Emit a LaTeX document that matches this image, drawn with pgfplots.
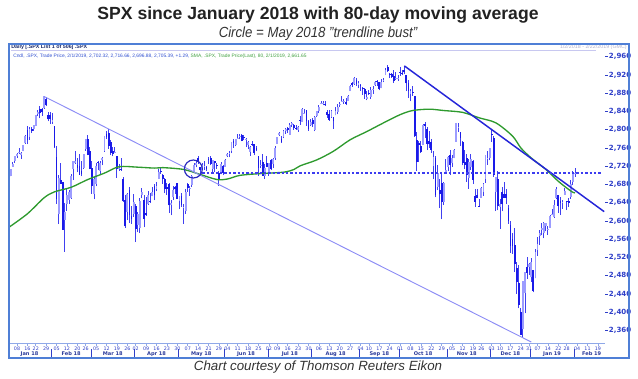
\documentclass[border=0pt]{standalone}
\usepackage{pgfplots}
\pgfplotsset{compat=1.18}
\usepackage{pgfplotstable}
\usepackage{fontspec}
\setmainfont{Liberation Sans}
\newfontfamily\vfont{DejaVu Sans}
\definecolor{titlec}{HTML}{222222}
\definecolor{subc}{HTML}{333333}
\definecolor{framec}{HTML}{4F7FD6}
\definecolor{tickc}{HTML}{2F3FC8}
\definecolor{monthc}{HTML}{2A3A9A}
\definecolor{wickc}{HTML}{4040F0}
\definecolor{downc}{HTML}{1A1AE8}
\definecolor{upc}{HTML}{9C9CFF}
\definecolor{smac}{HTML}{2E9A2E}
\definecolor{lightl}{HTML}{8C8CF5}
\definecolor{darkl}{HTML}{2525D8}
\definecolor{dotc}{HTML}{3C3CF0}
\definecolor{circc}{HTML}{2A2ABF}
\definecolor{lavc}{HTML}{C8C8F0}
\definecolor{hdrc}{HTML}{1A2A6A}
\definecolor{hblue}{HTML}{3050D0}
\definecolor{hgreen}{HTML}{40A040}
\definecolor{axc}{HTML}{8FA8E8}

\pgfplotstableread{
i o h l c
0 2683.73 2695.89 2682.36 2695.81
1 2697.85 2714.37 2697.77 2713.06
2 2719.31 2729.29 2719.07 2723.99
3 2731.33 2743.45 2727.92 2743.15
4 2742.67 2748.51 2737.60 2747.71
5 2751.15 2759.14 2747.86 2751.29
6 2745.55 2750.80 2736.06 2748.23
7 2752.97 2767.56 2752.78 2767.56
8 2770.18 2787.85 2769.64 2786.24
9 2798.96 2807.54 2768.64 2776.42
10 2784.99 2807.04 2778.38 2802.56
11 2802.40 2805.83 2792.56 2798.03
12 2802.60 2810.33 2798.08 2810.30
13 2809.16 2833.03 2808.12 2832.97
14 2835.05 2842.24 2830.59 2839.13
15 2845.42 2852.97 2824.81 2837.54
16 2846.24 2848.56 2830.94 2839.25
17 2847.48 2872.87 2846.18 2872.87
18 2867.23 2870.62 2851.48 2853.53
19 2832.74 2837.75 2818.27 2822.43
20 2832.41 2839.26 2813.04 2823.81
21 2816.45 2835.96 2812.70 2821.98
22 2808.92 2808.92 2759.97 2762.13
23 2741.06 2763.39 2638.17 2648.94
24 2614.78 2701.04 2593.07 2695.14
25 2690.95 2727.67 2681.33 2681.66
26 2685.01 2685.27 2580.56 2581.00
27 2601.78 2638.67 2532.69 2619.55
28 2636.75 2672.61 2622.45 2656.00
29 2646.27 2668.84 2637.08 2662.94
30 2651.21 2702.10 2648.87 2698.63
31 2713.46 2731.51 2689.82 2731.20
32 2727.14 2754.42 2725.11 2732.22
33 2722.99 2737.60 2706.76 2716.26
34 2720.53 2747.75 2701.29 2701.33
35 2710.42 2731.26 2697.77 2703.96
36 2715.80 2747.76 2713.74 2747.30
37 2757.37 2780.64 2753.78 2779.60
38 2780.45 2789.15 2744.22 2744.28
39 2753.78 2761.52 2713.54 2713.83
40 2715.22 2730.89 2659.65 2677.67
41 2658.89 2696.25 2647.32 2691.25
42 2681.06 2728.09 2675.75 2720.94
43 2730.18 2732.08 2711.26 2728.12
44 2710.18 2730.60 2701.74 2726.80
45 2732.75 2740.45 2721.92 2738.97
46 2752.91 2786.57 2751.54 2786.57
47 2790.54 2796.98 2779.26 2783.02
48 2792.31 2801.90 2758.68 2765.31
49 2774.06 2777.11 2744.38 2749.48
50 2754.27 2763.03 2741.47 2747.33
51 2750.57 2761.85 2749.97 2752.01
52 2741.38 2741.38 2694.59 2712.92
53 2715.05 2724.22 2710.05 2716.94
54 2714.99 2739.14 2709.79 2711.93
55 2691.36 2695.68 2641.59 2643.69
56 2646.71 2657.67 2585.89 2588.26
57 2619.35 2661.36 2601.81 2658.55
58 2667.57 2674.78 2596.12 2612.62
59 2611.30 2632.65 2593.06 2605.00
60 2614.41 2659.07 2609.72 2640.87
61 2633.45 2638.30 2553.80 2581.88
62 2592.17 2619.14 2575.49 2614.45
63 2584.04 2649.86 2573.61 2644.69
64 2657.36 2672.08 2649.58 2662.84
65 2645.82 2656.88 2586.27 2604.47
66 2617.18 2653.55 2610.79 2613.16
67 2638.41 2665.45 2635.78 2656.87
68 2643.69 2661.43 2639.25 2642.19
69 2653.83 2674.72 2653.83 2663.99
70 2676.90 2680.26 2645.05 2656.30
71 2670.10 2686.49 2665.16 2677.84
72 2692.74 2713.34 2692.05 2706.39
73 2710.11 2717.49 2703.63 2708.64
74 2701.16 2702.84 2681.90 2693.13
75 2692.56 2693.94 2660.61 2670.14
76 2675.40 2682.86 2657.99 2670.29
77 2680.80 2683.55 2617.32 2634.56
78 2634.92 2645.30 2612.67 2639.40
79 2651.65 2676.48 2647.16 2666.94
80 2675.47 2677.35 2659.01 2669.91
81 2682.51 2682.87 2648.04 2648.05
82 2642.96 2655.27 2625.41 2654.80
83 2654.24 2660.87 2631.70 2635.67
84 2628.08 2637.14 2594.62 2629.73
85 2621.45 2670.93 2615.32 2663.42
86 2680.34 2683.35 2664.70 2672.63
87 2670.26 2676.34 2655.20 2671.92
88 2678.12 2701.27 2674.14 2697.79
89 2705.02 2726.11 2704.54 2723.07
90 2722.70 2732.86 2717.45 2727.72
91 2738.47 2742.10 2725.47 2730.13
92 2718.59 2718.59 2701.91 2711.45
93 2712.62 2727.76 2712.17 2722.46
94 2719.71 2731.96 2711.36 2720.13
95 2717.35 2719.50 2709.18 2712.97
96 2735.39 2739.19 2725.70 2733.01
97 2738.34 2742.24 2721.88 2724.44
98 2713.98 2733.33 2707.38 2733.29
99 2730.94 2731.97 2707.38 2727.76
100 2723.60 2727.36 2714.99 2721.33
101 2705.11 2710.67 2676.81 2689.86
102 2702.43 2729.34 2702.43 2724.01
103 2720.98 2722.50 2700.68 2705.27
104 2718.70 2736.93 2718.70 2734.62
105 2741.67 2749.16 2740.54 2746.87
106 2748.46 2752.61 2739.51 2748.80
107 2753.25 2772.39 2748.46 2772.35
108 2774.84 2779.90 2760.16 2770.37
109 2765.84 2779.39 2763.59 2779.03
110 2780.18 2790.21 2779.90 2782.00
111 2785.60 2789.80 2778.78 2786.85
112 2787.94 2791.47 2774.65 2775.63
113 2783.21 2789.06 2776.52 2782.49
114 2777.78 2782.81 2761.73 2779.66
115 2765.79 2774.99 2757.12 2773.75
116 2752.01 2765.05 2743.19 2762.59
117 2769.73 2774.86 2763.91 2767.32
118 2769.28 2769.28 2744.39 2749.76
119 2760.79 2764.17 2752.68 2754.88
120 2742.94 2742.94 2698.67 2717.07
121 2722.12 2732.91 2715.60 2723.06
122 2728.45 2746.09 2699.38 2699.63
123 2698.69 2724.34 2691.99 2716.31
124 2727.13 2743.26 2718.03 2718.37
125 2704.95 2727.26 2698.95 2726.71
126 2733.27 2736.58 2711.16 2713.22
127 2724.19 2737.83 2716.02 2736.61
128 2737.68 2764.41 2733.52 2759.82
129 2769.76 2784.65 2769.76 2784.17
130 2788.56 2795.58 2786.24 2793.84
131 2779.82 2785.91 2770.77 2774.02
132 2783.14 2799.22 2781.53 2798.29
133 2796.93 2804.53 2791.69 2801.31
134 2804.55 2807.04 2793.82 2798.43
135 2789.34 2814.19 2789.24 2809.55
136 2811.35 2816.76 2805.89 2815.62
137 2809.37 2812.05 2799.77 2804.49
138 2804.55 2809.70 2800.01 2801.83
139 2799.17 2808.61 2795.14 2806.98
140 2820.68 2829.99 2811.12 2820.40
141 2817.73 2848.03 2817.73 2846.07
142 2835.49 2845.57 2835.26 2837.44
143 2842.35 2843.17 2808.34 2818.82
144 2819.00 2821.74 2798.11 2802.60
145 2809.73 2824.46 2808.06 2816.29
146 2821.17 2825.83 2805.85 2813.36
147 2800.48 2829.91 2796.34 2827.22
148 2829.62 2840.38 2827.37 2840.35
149 2840.29 2853.29 2835.98 2850.40
150 2855.92 2863.43 2855.92 2858.45
151 2856.79 2862.44 2853.09 2857.70
152 2857.19 2862.48 2851.98 2853.58
153 2838.90 2842.20 2825.81 2833.28
154 2835.46 2843.40 2819.88 2821.93
155 2827.88 2843.11 2826.58 2839.96
156 2827.95 2827.95 2802.49 2818.37
157 2831.44 2850.49 2831.44 2840.69
158 2838.32 2855.63 2833.73 2850.13
159 2853.93 2859.76 2850.62 2857.05
160 2861.51 2873.23 2861.32 2862.96
161 2860.99 2867.54 2856.05 2861.82
162 2860.29 2868.78 2854.03 2856.98
163 2862.35 2876.16 2862.35 2874.69
164 2884.69 2898.25 2884.69 2896.74
165 2901.45 2903.77 2893.50 2897.52
166 2900.62 2916.50 2898.40 2914.04
167 2908.94 2912.46 2895.22 2901.13
168 2898.37 2906.32 2890.73 2901.52
169 2896.96 2900.18 2885.13 2896.72
170 2891.59 2894.21 2876.92 2888.60
171 2888.64 2892.05 2867.29 2878.05
172 2868.26 2883.81 2864.12 2871.68
173 2881.39 2886.93 2875.94 2877.13
174 2871.57 2892.52 2866.78 2887.89
175 2888.29 2894.65 2879.20 2888.92
176 2896.85 2906.76 2896.39 2904.18
177 2906.38 2908.30 2895.77 2904.98
178 2903.83 2904.65 2886.16 2888.80
179 2890.74 2911.17 2890.43 2904.31
180 2906.60 2912.36 2903.82 2907.95
181 2919.73 2934.80 2919.73 2930.75
182 2936.76 2940.91 2927.11 2929.67
183 2921.83 2923.79 2912.63 2919.37
184 2921.75 2923.95 2913.70 2915.56
185 2916.98 2931.15 2903.28 2905.97
186 2911.65 2927.22 2909.27 2914.00
187 2910.03 2920.53 2907.50 2913.98
188 2926.29 2937.06 2917.91 2924.59
189 2923.80 2931.42 2919.37 2923.43
190 2931.69 2939.86 2921.36 2925.51
191 2919.35 2919.78 2883.92 2901.61
192 2902.54 2909.64 2869.29 2885.57
193 2877.53 2889.45 2862.08 2884.43
194 2882.51 2894.83 2874.27 2880.34
195 2873.90 2874.02 2784.86 2785.68
196 2776.87 2795.14 2710.51 2728.37
197 2770.54 2775.77 2729.44 2767.13
198 2763.83 2775.99 2749.03 2750.79
199 2767.05 2813.46 2766.91 2809.92
200 2811.67 2816.94 2781.81 2809.21
201 2802.00 2806.04 2755.18 2768.78
202 2775.66 2797.77 2760.27 2767.78
203 2773.94 2778.94 2749.22 2755.88
204 2721.03 2753.59 2691.43 2740.69
205 2737.87 2742.59 2651.89 2656.10
206 2674.88 2722.70 2667.84 2705.57
207 2667.86 2692.38 2628.16 2658.69
208 2682.65 2706.85 2603.54 2641.25
209 2640.68 2685.43 2635.34 2682.63
210 2705.60 2736.69 2705.60 2711.74
211 2717.58 2741.67 2708.85 2740.37
212 2745.45 2756.55 2700.44 2723.06
213 2726.37 2744.27 2717.94 2738.31
214 2738.40 2756.82 2737.08 2755.45
215 2774.13 2815.15 2774.13 2813.89
216 2806.38 2814.75 2794.99 2806.83
217 2794.10 2794.10 2764.24 2781.01
218 2773.93 2775.99 2722.00 2726.22
219 2730.05 2754.60 2714.98 2722.18
220 2737.90 2746.80 2685.75 2701.58
221 2693.52 2735.38 2670.75 2730.20
222 2718.54 2746.75 2712.16 2736.27
223 2730.74 2733.16 2681.09 2690.73
224 2654.60 2669.44 2631.52 2641.89
225 2657.74 2670.73 2649.82 2649.93
226 2633.36 2647.55 2631.09 2632.56
227 2649.97 2674.35 2649.97 2673.45
228 2663.75 2682.53 2655.89 2682.17
229 2691.45 2744.00 2684.38 2743.79
230 2736.97 2753.75 2722.94 2737.80
231 2737.76 2760.88 2732.76 2760.17
232 2790.50 2800.18 2773.38 2790.37
233 2782.43 2785.93 2697.18 2700.06
234 2663.51 2696.15 2621.53 2695.95
235 2691.26 2708.54 2623.14 2633.08
236 2630.86 2647.51 2583.23 2637.72
237 2664.44 2674.35 2621.30 2636.78
238 2658.23 2685.44 2650.26 2651.07
239 2658.70 2670.19 2637.27 2650.54
240 2629.68 2635.07 2593.84 2599.95
241 2590.75 2601.13 2530.54 2545.94
242 2559.90 2573.99 2528.71 2546.16
243 2547.05 2585.29 2488.96 2506.96
244 2496.77 2509.63 2441.18 2467.42
245 2465.38 2504.41 2408.55 2416.62
246 2400.56 2410.34 2351.10 2351.10
247 2363.12 2467.76 2346.58 2467.70
248 2442.50 2489.10 2397.94 2488.83
249 2498.77 2520.27 2472.89 2485.74
250 2498.94 2509.24 2482.82 2506.85
251 2476.96 2519.49 2467.47 2510.03
252 2491.92 2493.14 2443.96 2447.89
253 2474.33 2538.07 2474.33 2531.94
254 2535.61 2566.16 2524.56 2549.69
255 2568.11 2579.82 2547.56 2574.41
256 2580.00 2595.32 2568.89 2584.96
257 2573.51 2597.82 2562.02 2596.64
258 2588.11 2596.27 2577.40 2596.26
259 2580.31 2589.32 2570.41 2582.61
260 2585.10 2613.08 2585.10 2610.30
261 2614.75 2625.76 2612.68 2616.10
262 2609.28 2645.06 2606.36 2635.96
263 2651.27 2675.47 2647.58 2670.71
264 2657.88 2657.88 2617.27 2632.90
265 2643.48 2653.19 2612.86 2638.70
266 2638.84 2647.20 2627.01 2642.33
267 2657.44 2672.38 2657.33 2664.76
268 2644.97 2644.97 2624.06 2643.85
269 2644.89 2650.93 2631.05 2640.00
270 2653.62 2690.44 2648.34 2681.05
271 2685.49 2708.95 2678.65 2704.10
272 2702.32 2716.66 2696.88 2705.39
}\spx

\pgfplotstableread{
i v
0 2586
9 2616
17 2651
22 2664
30 2674
38 2691
46 2705
53 2719
62 2718
70 2716
74 2717
84 2713
92 2702
100 2691
105 2692
111 2700
121 2704
132 2707
137 2713
140 2721
148 2734
156 2753
164 2778
172 2796
180 2815
188 2833
194 2842
202 2845
209 2842
218 2838
226 2826
234 2815
242 2786
246 2760
251 2738
258 2713
264 2687
269 2669
271 2663
272 2661.65
}\sma

\begin{document}
\begin{tikzpicture}[x=0.75pt,y=0.75pt]
\path[use as bounding box] (0,0) rectangle (638,378);
% titles
\node[font=\bfseries\fontsize{13.2}{15}\selectfont, text=titlec] at (318,363) {SPX since January 2018 with 80-day moving average};
\node[font=\itshape\fontsize{11}{13}\selectfont, text=subc] at (318,344) {\scalebox{0.9}[1]{Circle = May 2018 "trendline bust"}};
\node[font=\itshape\fontsize{10}{12}\selectfont, text=subc] at (318,11) {Chart courtesy of Thomson Reuters Eikon};

\begin{axis}[
  at={(6.759pt,26.25pt)}, anchor=south west,
  scale only axis, width=447.15pt, height=224pt,
  xmin=0.15, xmax=286.5, ymin=2333, ymax=2987,
  axis x line*=bottom, axis y line*=right,
  x axis line style={draw=axc, line width=0.6pt},
  y axis line style={draw=none},
  tick align=outside,
  major tick length=2pt,
  xtick={4,9,13,18,23,28,33,37,42,47,52,57,61,66,71,76,81,86,91,96,101,105,110,115,120,125,129,134,139,144,149,154,159,164,169,173,178,183,188,193,198,203,208,213,218,223,227,232,236,241,246,250,254,259,264,268,273,278,283},
  xticklabels={08,16,22,29,05,12,20,26,05,12,19,26,02,09,16,23,30,07,14,21,29,04,11,18,25,02,09,16,23,30,06,13,20,27,04,10,17,24,01,08,15,22,29,05,12,19,26,03,10,17,24,31,07,14,22,28,04,11,19},
  x tick label style={font=\vfont\fontsize{3.6}{4}\selectfont, text=tickc, inner sep=0.6pt},
  x tick style={draw=axc, line width=0.5pt},
  ytick={2360,2400,2440,2480,2520,2560,2600,2640,2680,2720,2760,2800,2840,2880,2920,2960},
  yticklabels={{2,360},{2,400},{2,440},{2,480},{2,520},{2,560},{2,600},{2,640},{2,680},{2,720},{2,760},{2,800},{2,840},{2,880},{2,920},{2,960}},
  yticklabel pos=right,
  y tick label style={font=\vfont\bfseries\fontsize{5.3}{6}\selectfont, text=tickc, inner sep=0.6pt},
  y tick style={draw=tickc, line width=0.6pt},
]
% wicks
\addplot[draw=none, no marks, forget plot,
  error bars/.cd, y dir=plus, y explicit, error mark=none,
  error bar style={draw=wickc, line width=0.75pt}]
  table[x=i, y=l, y error plus expr={\thisrow{h}-\thisrow{l}}] {\spx};
% up bodies
\addplot[draw=none, no marks, forget plot,
  error bars/.cd, y dir=plus, y explicit, error mark=none,
  error bar style={draw=upc, line width=1.35pt}]
  table[x=i, y=o, y error plus expr={max(\thisrow{c}-\thisrow{o},0)}] {\spx};
% down bodies
\addplot[draw=none, no marks, forget plot,
  error bars/.cd, y dir=plus, y explicit, error mark=none,
  error bar style={draw=downc, line width=1.35pt}]
  table[x=i, y=c, y error plus expr={max(\thisrow{o}-\thisrow{c},0)}] {\spx};
% 80-day SMA
\addplot[smac, line width=1pt, no marks, smooth] table[x=i, y=v] {\sma};
% trendlines
\addplot[lightl, line width=0.7pt, no marks] coordinates {(17,2872.87) (251,2335.1)};
\addplot[darkl, line width=1.1pt, no marks] coordinates {(190,2939.86) (286,2620.6)};
\addplot[dotc, line width=1.35pt, no marks, dash pattern=on 1.8pt off 1.5pt] coordinates {(93,2706) (285,2706)};
% circle
\addplot[circc, only marks, mark=o, mark size=6.75pt, mark options={line width=0.9pt}] coordinates {(88.7,2714)};
\end{axis}

% header inside frame
\node[anchor=west, font=\bfseries\fontsize{4}{5}\selectfont, text=hdrc, inner sep=0] at (11,331) {Daily [.SPX List 1 of 506] .SPX};
\node[anchor=east, font=\fontsize{4}{5}\selectfont, text=lavc!70!gray, inner sep=0] at (627,331) {1/2/2018 - 2/22/2019 (GMC)};
\draw[lavc, line width=1.2pt] (11,327.5) -- (596,327.5);
\node[anchor=west, font=\fontsize{3.65}{4}\selectfont, inner sep=0] at (13,322) {{\color{hblue}Cndl, .SPX, Trade Price, 2/1/2019, 2,702.32, 2,716.66, 2,696.88, 2,705.39, +1.29, }{\color{hgreen}SMA, .SPX, Trade Price(Last), 80, 2/1/2019, 2,661.65}};

% month labels and separators
\foreach \b in {20.5,39.5,60.5,81.5,103.5,124.5,145.5,168.5,187.5,210.5,231.5,250.5,271.5}
  \draw[tickc, line width=0.6pt] ({8.7+2.082*\b},21) -- ({8.7+2.082*\b},29);
\foreach \m/\lab in {10/Jan 18,30/Feb 18,50/Mar 18,71/Apr 18,92.5/May 18,114/Jun 18,135/Jul 18,157/Aug 18,178/Sep 18,199/Oct 18,220/Nov 18,241/Dec 18,261/Jan 19,280/Feb 19}
  \node[font=\vfont\bfseries\fontsize{3.8}{4.5}\selectfont, text=monthc, inner sep=0] at ({8.7+2.082*\m},24) {\lab};

% frame
\draw[framec, line width=1.1pt] (9,20) rectangle (629,334);
\end{tikzpicture}
\end{document}
